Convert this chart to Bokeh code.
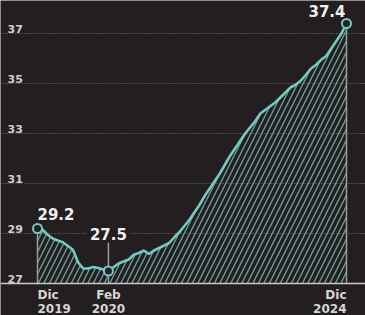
from bokeh.plotting import figure
from bokeh.models import FixedTicker, Span, Label, Range1d
from bokeh.core.properties import value
from bokeh.embed import file_html
from bokeh.resources import INLINE

# ---- data ----
values = [29.2, 29.15, 28.95, 28.8, 28.72, 28.65, 28.5, 28.35, 27.85, 27.6,
          27.6, 27.66, 27.62, 27.56, 27.5, 27.65, 27.8, 27.88, 27.96, 28.15,
          28.22, 28.32, 28.18, 28.32, 28.42, 28.52, 28.62, 28.85, 29.05, 29.3,
          29.55, 29.85, 30.15, 30.5, 30.8, 31.1, 31.4, 31.75, 32.1, 32.4,
          32.7, 33.0, 33.25, 33.5, 33.8, 33.95, 34.1, 34.25, 34.45, 34.65,
          34.85, 34.95, 35.12, 35.35, 35.6, 35.75, 35.95, 36.1, 36.4, 36.7,
          37.0, 37.4]
idx = list(range(len(values)))
label_idx = [0, 14, 61]
x_months = ["Dic", "Feb", "Dic"]
x_years = ["2019", "2020", "2024"]
y_ticks = [27, 29, 31, 33, 35, 37]
baseline = 27

BG = "#231f20"
TEAL = "#6fcbc4"

W, H = 365, 315
x0, x1 = -7.304, 64.75
y0, y1 = 25.72, 38.32

p = figure(width=W, height=H, output_backend="svg", toolbar_location=None,
           x_range=Range1d(x0, x1), y_range=Range1d(y0, y1),
           min_border=0, background_fill_color=BG, border_fill_color=BG,
           outline_line_color=None)
p.xaxis.visible = False
p.yaxis.visible = False
p.xgrid.visible = False
p.ygrid.ticker = FixedTicker(ticks=y_ticks[1:])
p.ygrid.grid_line_color = "#7a7a7a"
p.ygrid.grid_line_dash = "1 2"
p.ygrid.grid_line_width = 1.2

# hatched area
p.varea(x=idx, y1=[baseline] * len(idx), y2=values, fill_alpha=0,
        hatch_pattern="/", hatch_color="#6b9a97", hatch_scale=11, hatch_weight=1.4)

# vertical markers
hl_vals = [values[i] for i in label_idx]
seg_top = [hl_vals[0], 29, hl_vals[2]]
p.segment(x0=label_idx, x1=label_idx, y0=[baseline] * 3, y1=seg_top,
          line_color="#9a9a9a", line_width=1.5)

p.add_layout(Span(location=baseline, dimension="width", line_color="#c8c8c8",
                  line_width=1.5))

p.line(idx, values, line_color=TEAL, line_width=2.6)
p.scatter(label_idx, hl_vals, size=9, fill_color=BG, line_color=TEAL, line_width=2)

# y tick labels
p.text(x=[x0] * len(y_ticks), y=y_ticks, text=[str(t) for t in y_ticks],
       text_font=value("DejaVu Sans"), text_font_style="bold", text_font_size="11px",
       text_color="#cfcfcf", text_align="left", text_baseline="alphabetic",
       x_offset=7, y_offset=-5)

# x labels (month line and year line)
aligns = ["left", "center", "right"]
for i, (m, yv, al) in enumerate(zip(x_months, x_years, aligns)):
    for txt, off in ((m, 11), (yv, 25)):
        p.text(x=[label_idx[i]], y=[baseline], text=[txt],
               text_font=value("DejaVu Sans"), text_font_style="bold",
               text_font_size="12px", text_color="#d6d6d6",
               text_baseline="middle", text_align=al, y_offset=off)

# value labels
vcommon = dict(text_font=value("DejaVu Sans"), text_font_style="bold",
               text_font_size="15px", text_color="#f0f0f0", text_baseline="alphabetic")
p.text(x=[label_idx[0]], y=[hl_vals[0]], text=[f"{hl_vals[0]:.1f}"],
       text_align="left", y_offset=-15, **vcommon)
p.text(x=[label_idx[2]], y=[hl_vals[2]], text=[f"{hl_vals[2]:.1f}"],
       text_align="right", x_offset=-1, y_offset=-13, **vcommon)
p.add_layout(Label(x=label_idx[1], y=29, text=f"{hl_vals[1]:.1f}",
                   text_font="DejaVu Sans", text_font_style="bold",
                   text_font_size="15px", text_color="#f0f0f0",
                   text_align="center", text_baseline="middle",
                   background_fill_color=BG, padding=3))

open("out.html", "w").write(file_html(p, INLINE))
